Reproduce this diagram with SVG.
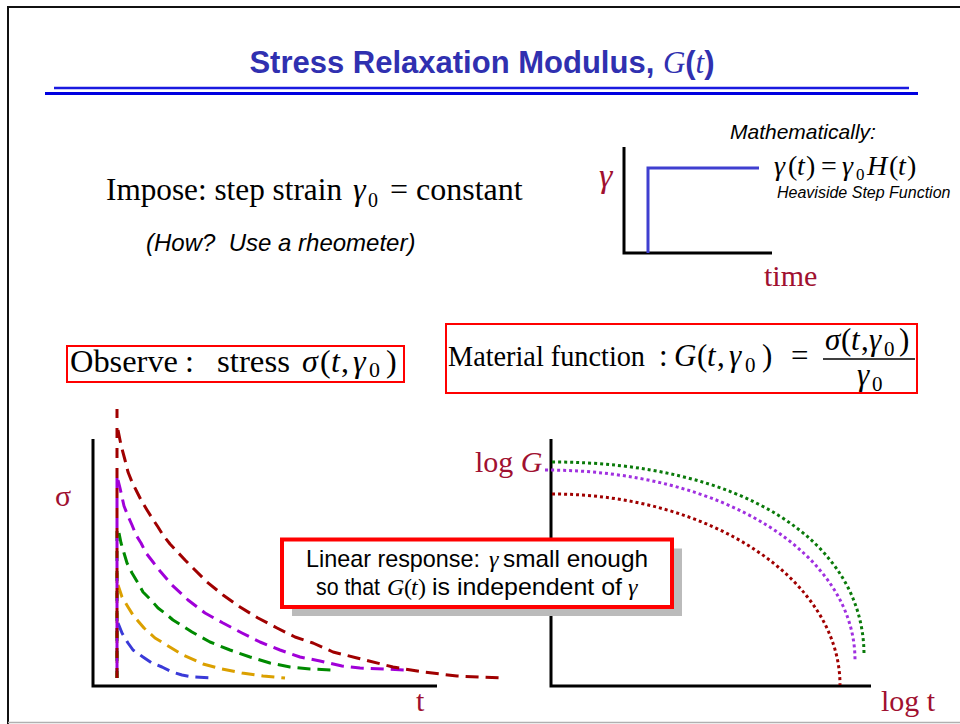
<svg xmlns="http://www.w3.org/2000/svg" width="960" height="724" viewBox="0 0 960 724">
<style>
.sans{font-family:"Liberation Sans",Arial,sans-serif}
.serif{font-family:"Liberation Serif","Times New Roman",serif}
.it{font-style:italic}
.lbl{fill:#a01030}
.axis{stroke:#000;stroke-width:3;fill:none}
.dash{fill:none;stroke-width:3;stroke-dasharray:13 7;stroke-linejoin:round}
.vdash{fill:none;stroke-width:3;stroke-dasharray:10 10}
.dot{fill:none;stroke-width:3;stroke-dasharray:3 3}
.redbox{fill:none;stroke:#ff0000;stroke-width:2}
</style>
<rect width="960" height="724" fill="#fff"/>
<g id="frame">
<line x1="7" y1="7" x2="960" y2="7" stroke="#111" stroke-width="2"/>
<line x1="8" y1="6" x2="8" y2="724" stroke="#111" stroke-width="2"/>
<line x1="8" y1="722.5" x2="960" y2="722.5" stroke="#b0b0b0" stroke-width="1.5"/>
</g>
<g id="title">
<text x="482" y="73" text-anchor="middle" class="sans" font-weight="bold" font-size="31" fill="#3030b0">Stress Relaxation Modulus, <tspan class="serif it" font-weight="normal">G</tspan>(<tspan class="serif it" font-weight="normal">t</tspan>)</text>
<line x1="54" y1="88" x2="909" y2="88" stroke="#1a1ae0" stroke-width="2.5"/>
<line x1="45" y1="93.5" x2="918" y2="93.5" stroke="#0000e0" stroke-width="3"/>
</g>
<g id="impose" class="serif" font-size="32" fill="#000">
<text x="106" y="200" textLength="236" lengthAdjust="spacingAndGlyphs">Impose: step strain</text>
<text x="353" y="200" class="it">γ</text>
<text x="368" y="207" font-size="20">0</text>
<text x="390" y="200">=</text>
<text x="416" y="200">constant</text>
</g>
<g id="howto">
<text x="146" y="251" class="sans it" font-size="24" fill="#000" xml:space="preserve">(How?  Use a rheometer)</text>
</g>
<g id="math">
<text x="730" y="139" class="sans it" font-size="21" fill="#000">Mathematically:</text>
<g class="serif" font-size="28" fill="#000">
<text x="774" y="175" class="it">γ</text>
<text x="788" y="175">(</text>
<text x="797" y="175" class="it">t</text>
<text x="806" y="175">)</text>
<text x="821" y="175">=</text>
<text x="842" y="175" class="it">γ</text>
<text x="856" y="179.5" font-size="17">0</text>
<text x="867" y="175" class="it">H</text>
<text x="889" y="175">(</text>
<text x="898" y="175" class="it">t</text>
<text x="907" y="175">)</text>
</g>
<text x="777" y="198" class="sans it" font-size="16" fill="#000">Heaviside Step Function</text>
</g>
<g id="step-plot">
<path class="axis" d="M624,147 V253 H772"/>
<path d="M648,253 V168 H759" fill="none" stroke="#3f3fd0" stroke-width="3"/>
<text x="599" y="187" class="serif it lbl" font-size="34">γ</text>
<text x="764" y="286" class="serif lbl" font-size="30">time</text>
</g>
<g id="observe-box">
<rect class="redbox" x="67" y="346" width="337" height="36"/>
<g class="serif" font-size="32" fill="#000">
<text x="70" y="371.5" textLength="108" lengthAdjust="spacingAndGlyphs">Observe</text>
<text x="185" y="371.5">:</text>
<text x="217" y="371.5" textLength="73" lengthAdjust="spacingAndGlyphs">stress</text>
<text x="302" y="371.5" class="it">σ</text>
<text x="320" y="371.5">(</text>
<text x="331" y="371.5" class="it">t</text>
<text x="341" y="371.5">,</text>
<text x="353" y="371.5" class="it">γ</text>
<text x="369" y="377" font-size="22">0</text>
<text x="386" y="371.5">)</text>
</g>
</g>
<g id="material-box">
<rect class="redbox" x="446" y="324" width="471" height="69"/>
<g class="serif" font-size="31" fill="#000">
<text x="448" y="366" font-size="29" textLength="197" lengthAdjust="spacingAndGlyphs">Material function</text>
<text x="659" y="366">:</text>
<text x="674" y="366" class="it">G</text>
<text x="697" y="366">(</text>
<text x="707" y="366" class="it">t</text>
<text x="717" y="366">,</text>
<text x="729" y="366" class="it">γ</text>
<text x="745" y="372" font-size="21">0</text>
<text x="762" y="366">)</text>
<text x="791" y="366">=</text>
<text x="825" y="350" class="it">σ</text>
<text x="841" y="350">(</text>
<text x="851" y="350" class="it">t</text>
<text x="861" y="350">,</text>
<text x="869" y="350" class="it">γ</text>
<text x="884" y="356" font-size="21">0</text>
<text x="899" y="350">)</text>
<line x1="823" y1="359" x2="915" y2="359" stroke="#000" stroke-width="1.5"/>
<text x="857" y="385" class="it">γ</text>
<text x="872" y="391" font-size="21">0</text>
</g>
</g>
<g id="stress-plot">
<path class="axis" d="M93,439 V686 H437"/>
<path class="dash" stroke="#3a3ad8" d="M118,623 L122,633 128,643 133,650 143,657 152,663 162,667 172,672 182,675 193,677 213,678"/>
<path class="dash" stroke="#dba000" d="M118,585 L122,597 128,607 133,615 138,621 144,628 155,638 165,644 183,655 203,664 222,669 242,673 263,676 285,678"/>
<path class="dash" stroke="#008a00" d="M119,533 L121,543 124,553 127,563 132,573 138,583 143,592 151,600 158,608 166,614 173,620 192,632 210,642 230,650 250,657 270,663 290,667 310,669 333,670"/>
<path class="dash" stroke="#a000d8" d="M118,480 L120,488 122,497 124,506 128,516 132,525 136,535 141,543 146,553 153,562 160,571 172,585 188,600 205,613 223,623 242,633 260,642 280,650 300,657 320,661 342,666 360,668 405,670"/>
<path class="dash" stroke="#a00000" d="M118,430 L121,445 125,460 128,472 132,482 137,492 141,500 147,510 152,518 158,527 163,535 170,544 185,560 192,567 207,582 223,595 240,607 258,618 277,628 295,637 313,643 333,652 357,658 393,667 423,672 457,676 502,678"/>
<path class="vdash" stroke="#3a3ad8" d="M117,678 V623"/>
<path class="vdash" stroke="#dba000" d="M117,678 V573" stroke-dashoffset="5"/>
<path class="vdash" stroke="#008a00" d="M117,678 V527" stroke-dashoffset="3"/>
<path class="vdash" stroke="#a000d8" d="M117,678 V468" stroke-dashoffset="10"/>
<path class="vdash" stroke="#a00000" d="M117,678 V409"/>
<text x="55" y="506" class="serif lbl" font-size="30">σ</text>
<text x="416" y="711" class="serif lbl" font-size="30">t</text>
</g>
<g id="modulus-plot">
<path class="axis" d="M551,439 V686 H871"/>
<path class="dot" stroke="#0a7a0a" d="M552,462 C740,462 864,540 864,655"/>
<path class="dot" stroke="#a030e0" d="M545,470 C725,470 855,555 855,660"/>
<path class="dot" stroke="#a00000" d="M552,494 C711,494 840,580 840,685"/>
<text x="475" y="472" class="serif lbl" font-size="30">log <tspan class="it">G</tspan></text>
<text x="881" y="711" class="serif lbl" font-size="30">log t</text>
</g>
<g id="linear-box">
<rect x="292" y="548.5" width="390" height="67.5" fill="#bbbbbb"/>
<rect x="282" y="539.5" width="390" height="67.5" fill="#fff" stroke="#ff0000" stroke-width="4"/>
<g font-size="24" fill="#000">
<text x="306" y="567" class="sans" textLength="174" lengthAdjust="spacingAndGlyphs">Linear response:</text>
<text x="489" y="567" class="serif it">γ</text>
<text x="503" y="567" class="sans" textLength="145" lengthAdjust="spacingAndGlyphs">small enough</text>
<text x="316" y="595" class="sans" textLength="64" lengthAdjust="spacingAndGlyphs">so that</text>
<text x="387" y="595" class="serif it">G</text>
<text x="404" y="595" class="serif">(</text>
<text x="411" y="595" class="serif it">t</text>
<text x="418" y="595" class="serif">)</text>
<text x="432" y="595" class="sans" textLength="190" lengthAdjust="spacingAndGlyphs">is independent of</text>
<text x="628" y="595" class="serif it">γ</text>
</g>
</g>
</svg>
